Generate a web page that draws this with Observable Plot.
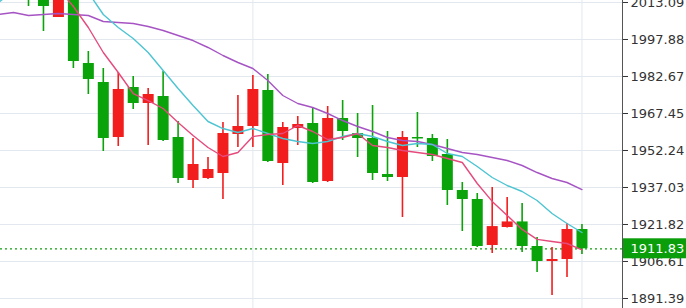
<!DOCTYPE html>
<html><head><meta charset="utf-8">
<script src="https://cdn.jsdelivr.net/npm/d3@7"></script>
<script src="https://cdn.jsdelivr.net/npm/@observablehq/plot@0.6"></script>
<style>html,body{margin:0;padding:0;background:#fff;overflow:hidden}</style>
</head><body><div id="chart"></div>
<script>
// Candle slots (0 = first candle at left)
const candleIndex = d3.range(0, 38);
const open  = [2026.25,2015.15,2006.92,2015.97,1988.00,1980.20,1957.58,1978.14,1971.56,1974.44,1957.58,1939.90,1940.73,1942.78,1958.82,1962.10,1976.91,1946.90,1961.28,1963.34,1939.50,1965.40,1959.23,1957.17,1942.37,1941.14,1957.58,1957.17,1950.60,1935.80,1932.10,1913.18,1920.58,1922.87,1912.77,1906.60,1907.42,1919.76];
const high  = [2030.40,2018.02,2018.84,2017.20,1992.94,1985.96,1984.31,1982.66,1977.73,1984.72,1964.16,1957.17,1949.37,1963.75,1974.85,1983.07,1983.49,1963.75,1966.22,1969.92,1970.33,1972.80,1967.45,1970.74,1960.05,1960.05,1967.86,1958.82,1956.76,1939.08,1934.56,1937.03,1932.92,1930.45,1916.47,1912.36,1922.23,1921.77];
const low   = [2011.45,2001.17,2006.92,1985.96,1975.26,1951.83,1953.89,1969.10,1954.30,1955.94,1938.67,1936.62,1940.32,1932.10,1953.47,1953.47,1947.30,1937.85,1954.30,1938.67,1939.08,1956.35,1949.36,1939.90,1939.50,1924.70,1953.47,1947.72,1929.63,1918.94,1912.36,1909.89,1920.38,1910.30,1902.10,1892.63,1900.03,1909.48];
const close = [2014.73,2011.45,2015.97,1988.83,1981.43,1957.17,1977.32,1971.56,1975.26,1956.35,1940.73,1946.48,1944.43,1959.23,1962.10,1977.32,1947.72,1961.70,1962.93,1939.08,1965.40,1960.05,1957.17,1942.78,1941.14,1957.58,1956.97,1949.77,1935.80,1932.10,1912.77,1920.96,1922.87,1912.77,1906.60,1907.42,1919.76,1911.83];

// Moving averages (slots -2 .. 37)
const maIndex = d3.range(-2, 38);
const maSlow = [2008.15,2008.98,2007.74,2008.15,2008.57,2008.15,2007.74,2005.28,2004.87,2004.45,2003.22,2001.58,1999.52,1997.46,1994.59,1991.30,1988.42,1985.95,1981.02,1974.85,1971.56,1969.92,1967.45,1964.57,1962.10,1960.05,1957.58,1956.35,1955.94,1954.70,1953.06,1951.41,1950.59,1949.36,1948.12,1946.07,1943.19,1940.73,1939.08,1936.20];
const maMid  = [2013.09,2018.02,2021.31,2022.96,2023.78,2022.13,2017.20,2008.15,2002.81,1998.29,1992.53,1985.13,1977.73,1970.74,1964.16,1961.28,1959.64,1961.28,1959.23,1957.17,1955.94,1955.12,1955.94,1957.99,1959.23,1957.99,1955.94,1954.30,1955.12,1954.70,1951.00,1949.77,1945.66,1941.14,1937.85,1935.38,1931.68,1926.34,1922.22,1918.52];
const maFast = [2038.58,2034.47,2030.36,2025.42,2018.84,2011.44,2002.81,1992.53,1984.31,1975.67,1972.79,1969.51,1963.75,1958.41,1953.47,1949.77,1951.41,1957.99,1958.82,1959.23,1962.52,1960.05,1956.76,1957.58,1959.23,1954.30,1953.47,1952.24,1951.41,1950.59,1948.95,1947.31,1938.67,1931.31,1925.55,1919.79,1915.68,1914.82,1914.00,1911.40];

const yTicks = [2013.09,1997.88,1982.67,1967.45,1952.24,1937.03,1921.82,1906.61,1891.39];
const separators = [15, 37];

const xDomain = [-1.872, 39.71];
const yDomain = [1887.28, 2013.91];
const xEnd = xDomain[1];
const lastPrice = close[close.length - 1];

const candles = candleIndex.map((i, k) => ({i, o: open[k], h: high[k], l: low[k], c: close[k]}));
const ma = maIndex.map((i, k) => ({i, slow: maSlow[k], mid: maMid[k], fast: maFast[k]}));
const colorOf = d => d.c < d.o ? "#0aa30a" : "#f21d1d";

const chart = Plot.plot({
  width: 686, height: 308,
  marginTop: 0, marginBottom: 0, marginLeft: 0, marginRight: 64,
  x: {domain: xDomain, axis: null},
  y: {domain: yDomain, axis: null},
  style: {fontFamily: "'DejaVu Sans', sans-serif", fontSize: "13px", background: "#fff", overflow: "visible"},
  marks: [
    Plot.ruleY(yTicks, {stroke: "#e3e8ee", strokeWidth: 1}),
    Plot.ruleX(separators, {stroke: "#e3e8ee", strokeWidth: 1}),
    Plot.ruleY([lastPrice], {stroke: "#11a011", strokeWidth: 1.2, strokeDasharray: "2,3"}),
    Plot.ruleX(candles, {x: "i", y1: "l", y2: "h", stroke: colorOf, strokeWidth: 1.6, clip: true}),
    Plot.ruleX(candles, {x: "i", y1: "o", y2: "c", stroke: colorOf, strokeWidth: 11, clip: true}),
    Plot.line(ma, {x: "i", y: "slow", stroke: "#a654c4", strokeWidth: 1.4, clip: true}),
    Plot.line(ma, {x: "i", y: "mid", stroke: "#4cc4d2", strokeWidth: 1.4, clip: true}),
    Plot.line(ma, {x: "i", y: "fast", stroke: "#e54a7c", strokeWidth: 1.4, clip: true}),
    Plot.ruleX([xEnd], {stroke: "#555", strokeWidth: 1}),
    Plot.axisY({anchor: "right", ticks: yTicks, tickSize: 5, tickPadding: 3, tickFormat: d => d.toFixed(2), fontSize: 13, color: "#333"}),
    Plot.rect([lastPrice], {x1: () => xEnd, x2: () => xEnd, y1: d => d, y2: d => d, insetLeft: 1, insetRight: -64, insetTop: -10, insetBottom: -10, fill: "#0a9e0a"}),
    Plot.text([lastPrice], {x: () => xEnd, y: d => d, text: d => d.toFixed(2), dx: 8, textAnchor: "start", fill: "#fff", fontSize: 13})
  ]
});
document.getElementById("chart").appendChild(chart);
</script>
</body></html>
